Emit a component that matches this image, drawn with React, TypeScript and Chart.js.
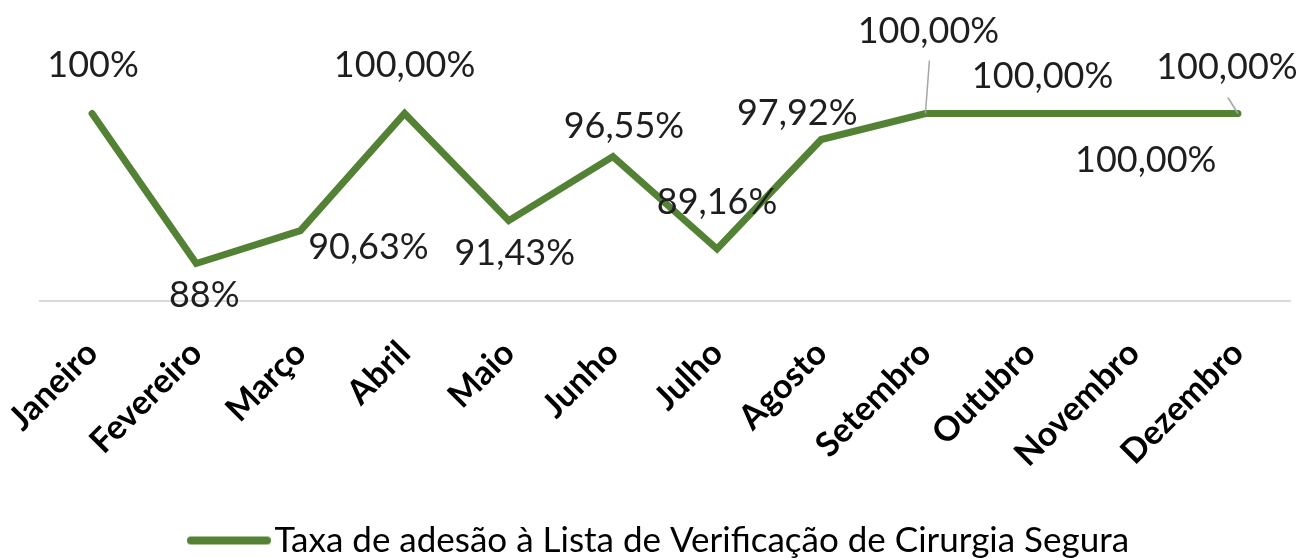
import React, { useEffect, useRef } from "react";
import { Chart, registerables } from "chart.js";

Chart.register(...registerables);

const months = [
  "Janeiro", "Fevereiro", "Março", "Abril", "Maio", "Junho",
  "Julho", "Agosto", "Setembro", "Outubro", "Novembro", "Dezembro",
];
const adherence = [100, 88, 90.63, 100, 91.43, 96.55, 89.16, 97.92, 100, 100, 100, 100];
const valueLabels = [
  "100%", "88%", "90,63%", "100,00%", "91,43%", "96,55%",
  "89,16%", "97,92%", "100,00%", "100,00%", "100,00%", "100,00%",
];
const seriesName = "Taxa de adesão à Lista de Verificação de Cirurgia Segura";

// manual label placement (px offsets of the label centre from its point)
const labelOffsets: [number, number][] = [
  [1, -49], [8, 31], [68, 15], [0, -49], [6, 31], [11, -32],
  [0, -48], [-24, -27], [3, -83], [13, -38], [12, 46], [-11, -47],
];
// leader lines: start offset from point (null = none)
const leaderStarts: ([number, number] | null)[] = [
  null, null, null, null, null, null, null, null, [4, -53], null, null, [-10, -16],
];

const GREEN = "#548235";
const W = 1306;
const H = 558;
const TOP = 51;
const PLOT_H = 250;
const PAD_BOTTOM = -10;

const labelPlugin = {
  id: "manualLabels",
  afterDatasetsDraw(chart: any) {
    const meta = chart.getDatasetMeta(0);
    const ctx = chart.ctx as CanvasRenderingContext2D;
    ctx.save();
    ctx.strokeStyle = "#a6a6a6";
    ctx.lineWidth = 1.5;
    meta.data.forEach((pt: any, i: number) => {
      const ls = leaderStarts[i];
      if (!ls) return;
      ctx.beginPath();
      ctx.moveTo(pt.x + ls[0], pt.y + ls[1]);
      ctx.lineTo(pt.x, pt.y);
      ctx.stroke();
    });
    const size = 36;
    ctx.font = `${size}px Lato`;
    ctx.fillStyle = "#1e1e1e";
    ctx.textAlign = "center";
    ctx.textBaseline = "alphabetic";
    meta.data.forEach((pt: any, i: number) => {
      const [dx, dy] = labelOffsets[i];
      ctx.fillText(valueLabels[i], pt.x + dx, pt.y + dy + size * 0.358);
    });
    ctx.restore();
  },
};

export default function App() {
  const ref = useRef<HTMLCanvasElement | null>(null);
  useEffect(() => {
    if (!ref.current) return;
    const marker = document.createElement("canvas");
    marker.width = 86;
    marker.height = 10;
    const mctx = marker.getContext("2d")!;
    mctx.strokeStyle = GREEN;
    mctx.lineWidth = 8;
    mctx.lineCap = "round";
    mctx.beginPath();
    mctx.moveTo(5, 5);
    mctx.lineTo(81, 5);
    mctx.stroke();

    const chart = new Chart(ref.current, {
      type: "line",
      data: {
        labels: months,
        datasets: [
          {
            label: seriesName,
            data: adherence,
            borderColor: GREEN,
            backgroundColor: GREEN,
            borderWidth: 7,
            pointRadius: 0,
            pointHoverRadius: 0,
            tension: 0,
            borderCapStyle: "round",
            borderJoinStyle: "miter",
          },
        ],
      },
      options: {
        animation: false,
        responsive: false,
        devicePixelRatio: 1,
        layout: { padding: { top: TOP, left: 40, right: 16, bottom: PAD_BOTTOM } },
        scales: {
          x: {
            offset: true,
            grid: { display: false, drawTicks: false },
            border: { display: true, color: "#d9d9d9", width: 2 },
            ticks: {
              autoSkip: false,
              maxRotation: 45,
              minRotation: 45,
              padding: 32,
              labelOffset: 0,
              color: "#000",
              font: { family: "Lato", size: 34, weight: "bold" },
            },
            afterFit: (s: any) => {
              const lh = s.chart.legend ? s.chart.legend.height : 0;
              s.height = H - PAD_BOTTOM - TOP - PLOT_H - lh;
              s.paddingLeft = 0;
              s.paddingRight = 0;
            },
          },
          y: { display: false, min: 85, max: 105 },
        },
        plugins: {
          tooltip: { enabled: false },
          legend: {
            position: "bottom",
            labels: {
              usePointStyle: true,
              pointStyle: marker as any,
              pointStyleWidth: 56,
              padding: 2,
              color: "#000",
              font: { family: "Lato", size: 35 },
            },
          },
        },
      },
      plugins: [labelPlugin],
    });
    return () => chart.destroy();
  }, []);

  return (
    <div style={{ position: "fixed", left: 0, top: 0, width: W, height: H, background: "#fff" }}>
      <canvas ref={ref} width={W} height={H} style={{ display: "block" }} />
    </div>
  );
}
